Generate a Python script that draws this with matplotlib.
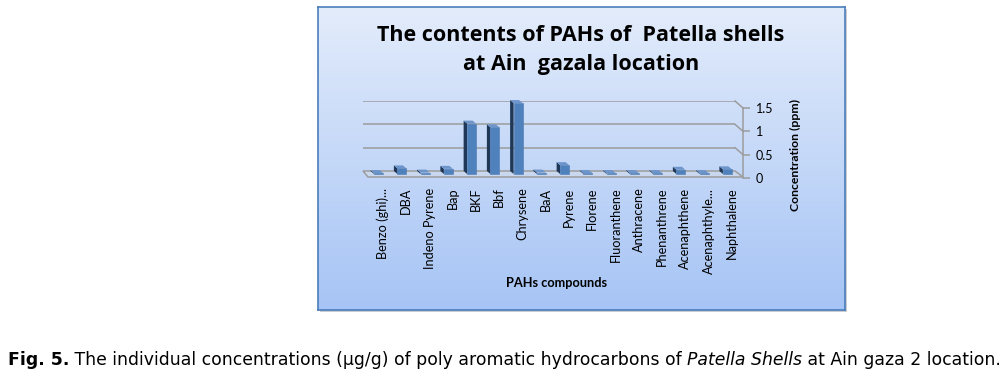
import matplotlib
matplotlib.use("Agg")
import matplotlib.pyplot as plt
import numpy as np
from matplotlib.patches import Polygon, Rectangle

# data
compounds = ['Benzo (ghi)...', 'DBA', 'Indeno Pyrene', 'Bap', 'BKF', 'Bbf', 'Chrysene',
             'BaA', 'Pyrene', 'Florene', 'Fluoranthene', 'Anthracene', 'Phenanthrene',
             'Acenaphthene', 'Acenaphthyle...', 'Naphthalene']
concentration = [0.02, 0.12, 0.03, 0.11, 1.08, 1.0, 1.52, 0.03, 0.19, 0.02, 0.02,
                 0.02, 0.02, 0.09, 0.02, 0.1]
y_ticks = [0, 0.5, 1, 1.5]
y_tick_labels = ['0', '0.5', '1', '1.5']

W, H = 1003, 381
fig = plt.figure(figsize=(W / 100, H / 100), dpi=100)


def box(x0, y0, x1, y1):
    # pixel box (top-left origin) -> figure fraction
    return [x0 / W, (H - y1) / H, (x1 - x0) / W, (y1 - y0) / H]


# chart area with gradient background
shadow = fig.add_axes(box(320, 9, 847, 312))
shadow.axis('off')
shadow.add_patch(Rectangle((0, 0), 1, 1, transform=shadow.transAxes, color='#c9ccd2'))
bg = fig.add_axes(box(318, 7, 845, 310))
top_c = np.array([0xE3, 0xEC, 0xFB]) / 255
bot_c = np.array([0xA6, 0xC4, 0xF5]) / 255
t = np.linspace(0, 1, 256)[:, None]
grad = (top_c[None, :] * (1 - t) + bot_c[None, :] * t)[:, None, :]
bg.imshow(grad, aspect='auto', extent=[0, 1, 0, 1])
bg.set_xticks([])
bg.set_yticks([])
for s in bg.spines.values():
    s.set_color('#4A7EBB')
    s.set_linewidth(1.2)

n = len(compounds)
pos = np.arange(n)
x0_px, x1_px, y0_px, y1_px = 363, 735, 101, 171
ppx = (x1_px - x0_px) / n           # pixels per category
ppy = (y1_px - y0_px) / 1.5         # pixels per unit
dx = lambda p: p / ppx
dy = lambda p: p / ppy

ax = fig.add_axes(box(x0_px, y0_px, x1_px, y1_px))
ax.set_xlim(-0.5, n - 0.5)
ax.set_ylim(0, 1.5)
ax.patch.set_alpha(0)
for s in ax.spines.values():
    s.set_visible(False)
ax.set_yticks([])

grid_c = '#9c9c9c'
for g in y_ticks[1:]:
    ax.axhline(g, color=grid_c, lw=1.1, zorder=1)
    ax.plot([n - 0.5, n - 0.5 + dx(8)], [g, g - dy(7)], color=grid_c, lw=1.1,
            clip_on=False, zorder=1)

# floor
floor = Polygon([(-0.5, 0), (n - 0.5, 0), (n - 0.5 + dx(8), -dy(6)), (-0.5 + dx(5), -dy(6))],
                closed=True, facecolor='#cad8ef', edgecolor=grid_c, lw=1.1,
                clip_on=False, zorder=2)
ax.add_patch(floor)

# 3D-ish columns
w = dx(9)
fdx, fdy = dx(4), dy(3)
ddx, ddy = dx(3.5), dy(3)
vals = np.array(concentration)
ax.bar(pos + fdx, vals, bottom=-fdy, width=w, color='#4F81BD', edgecolor='#4A78B0',
       lw=0.4, clip_on=False, zorder=4)
for x, v in zip(pos + fdx, vals):
    xl, xr = x - w / 2, x + w / 2
    top = v - fdy
    ax.add_patch(Polygon([(xl, -fdy), (xl - ddx, -fdy + ddy), (xl - ddx, top + ddy), (xl, top)],
                         closed=True, facecolor='#1F3857', edgecolor='none',
                         clip_on=False, zorder=3))
    ax.add_patch(Polygon([(xl, top), (xr, top), (xr - ddx, top + ddy), (xl - ddx, top + ddy)],
                         closed=True, facecolor='#6D95CB', edgecolor='none',
                         clip_on=False, zorder=5))

ax.set_xticks(pos + dx(8.5))
ax.set_xticklabels(compounds, rotation=90, family='Lato', fontsize=9.2)
ax.tick_params(axis='x', length=0, pad=12)

# right value axis (front plane)
ax2 = fig.add_axes(box(x0_px + 8, y0_px + 7, x1_px + 8, y1_px + 7))
ax2.set_xlim(-0.5, n - 0.5)
ax2.set_ylim(0, 1.5)
ax2.patch.set_alpha(0)
for k, s in ax2.spines.items():
    s.set_visible(k == 'right')
ax2.spines['right'].set_color(grid_c)
ax2.spines['right'].set_linewidth(1.1)
ax2.set_xticks([])
ax2.yaxis.tick_right()
ax2.set_yticks(y_ticks)
ax2.set_yticklabels(y_tick_labels, family='Lato', fontsize=9)
ax2.tick_params(axis='y', length=5, width=1.1, color=grid_c, pad=4)

# titles
fig.text(581 / W, 1 - 50 / H, 'The contents of PAHs of  Patella shells\nat Ain  gazala location',
         ha='center', va='center', family='Open Sans', fontweight='bold', fontsize=15.5,
         linespacing=1.45)
fig.text(557 / W, 1 - 283 / H, 'PAHs compounds', ha='center', va='center',
         family='Lato', fontweight='bold', fontsize=9.2)
fig.text(795 / W, 1 - 155 / H, 'Concentration (ppm)', ha='center', va='center',
         rotation=90, family='Lato', fontweight='bold', fontsize=8.8)

# caption, sized to its width in the reference
parts = [('Fig. 5.', 'bold', 'normal'),
         (' The individual concentrations (\u00b5g/g) of poly aromatic hydrocarbons of ', 'normal', 'normal'),
         ('Patella Shells', 'normal', 'italic'),
         (' at Ain gaza 2 location.', 'normal', 'normal')]
renderer = fig.canvas.get_renderer()


def draw_caption(fs):
    texts = []
    x = 8
    for s, wt, st in parts:
        tx = fig.text(x / W, 1 - 360 / H, s, ha='left', va='center', fontsize=fs,
                      family='DejaVu Sans', fontweight=wt, fontstyle=st)
        x = tx.get_window_extent(renderer).x1
        texts.append(tx)
    return texts, x - 8


texts, total = draw_caption(11.0)
for tx in texts:
    tx.remove()
draw_caption(11.0 * 989 / total)

fig.savefig('out.png', dpi=100)
